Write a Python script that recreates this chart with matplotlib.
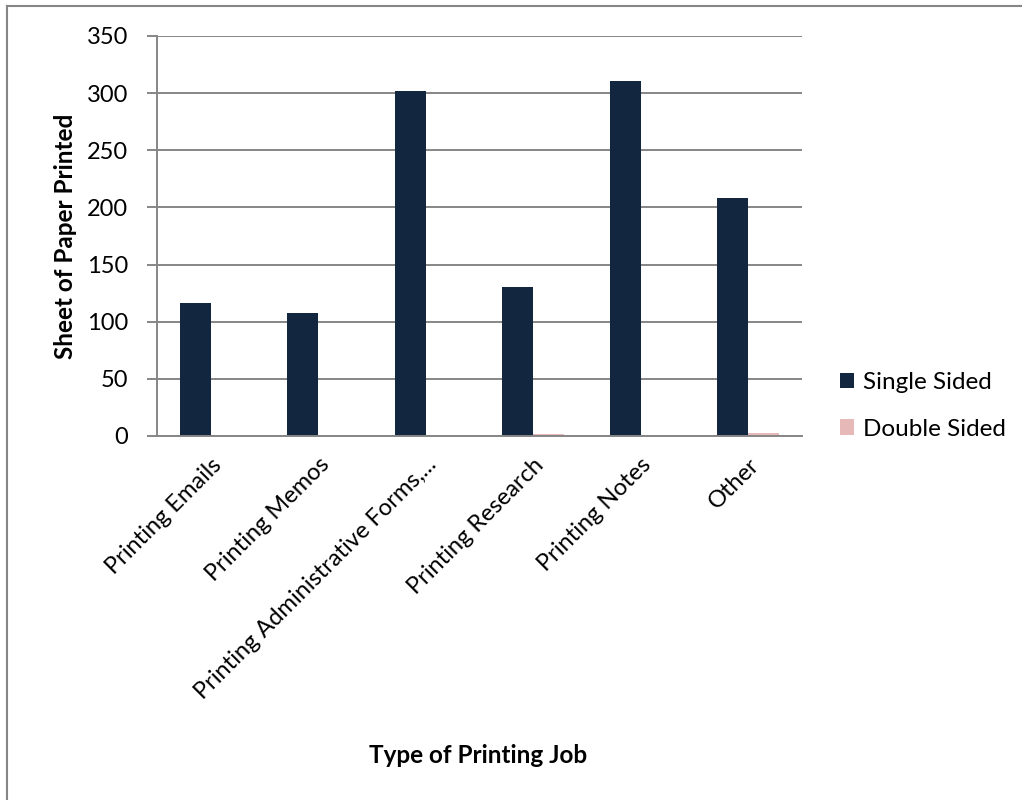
import numpy as np
import matplotlib
matplotlib.use('Agg')
import matplotlib.pyplot as plt
from matplotlib.lines import Line2D

plt.rcParams['font.family'] = ['Lato', 'DejaVu Sans']

# data
categories = ['Printing Emails', 'Printing Memos', 'Printing Administrative Forms,...',
              'Printing Research', 'Printing Notes', 'Other']
single_sided = [116, 108, 302, 130, 311, 208]
double_sided = [0, 0, 0, 2, 0, 3]
series_names = ['Single Sided', 'Double Sided']
y_ticks = [0, 50, 100, 150, 200, 250, 300, 350]

navy = '#12263f'
pink = '#e6b9b8'
grey = '#868686'

fig = plt.figure(figsize=(10.22, 8), dpi=100)
ax = fig.add_axes([0.1536, 0.455, 0.631, 0.5])

x = np.arange(len(categories))
w = 1 / 3.5  # excel gap width 150%
ax.bar(x - w / 2, single_sided, w, color=navy, label=series_names[0], zorder=3)
ax.bar(x + w / 2, double_sided, w, color=pink, label=series_names[1], zorder=3)

ax.set_xlim(-0.5, len(categories) - 0.5)
ax.set_ylim(0, 350)
ax.set_yticks(y_ticks)
ax.yaxis.grid(True, color=grey, linewidth=1.4, zorder=0)
ax.set_axisbelow(True)

for s in ['top', 'right']:
    ax.spines[s].set_visible(False)
for s in ['left', 'bottom']:
    ax.spines[s].set_color(grey)
    ax.spines[s].set_linewidth(1.4)
ax.spines['bottom'].set_zorder(4)

ax.tick_params(axis='y', length=7, width=1.4, color=grey, pad=14, labelsize=17)
ax.tick_params(axis='x', length=0, pad=13, labelsize=17)
ax.set_xticks(x)
ax.set_xticklabels(categories, rotation=45, ha='right', rotation_mode='anchor')

ax.set_ylabel('Sheet of Paper Printed', fontsize=17.5, fontweight='bold', labelpad=7)
fig.text(0.468, 0.056, 'Type of Printing Job', fontsize=17.5, fontweight='bold',
         ha='center', va='center')

leg = ax.legend(loc='center left', bbox_to_anchor=(1.025, 0.075), frameon=False,
                fontsize=17.5, handlelength=0.6, handleheight=0.6, handletextpad=0.35,
                labelspacing=1.05)

# chart border (only top and left are visible in the picture)
fig.add_artist(Line2D([0.007, 1.0], [0.9925, 0.9925], color=grey, linewidth=1.5,
                      transform=fig.transFigure))
fig.add_artist(Line2D([0.007, 0.007], [0.0, 0.9925], color=grey, linewidth=1.5,
                      transform=fig.transFigure))

fig.savefig('out.png', dpi=100)
